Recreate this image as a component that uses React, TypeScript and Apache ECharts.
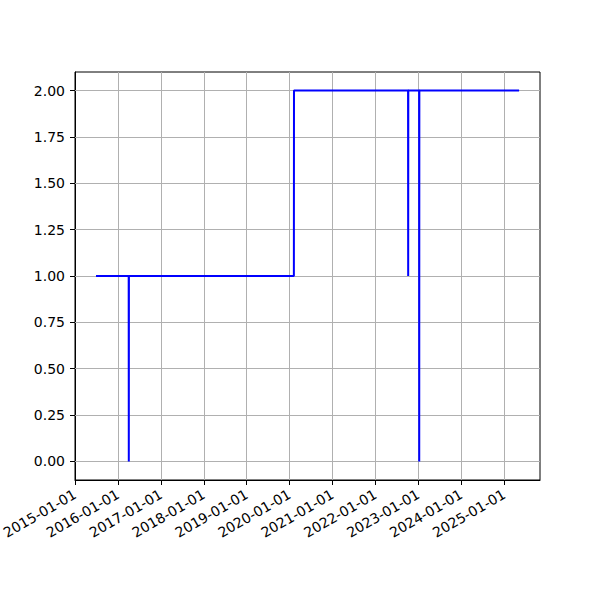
import React, { useEffect, useRef } from 'react';
import * as echarts from 'echarts';

// Tick labels
const X_TICK_LABELS = [
  '2015-01-01', '2016-01-01', '2017-01-01', '2018-01-01', '2019-01-01', '2020-01-01',
  '2021-01-01', '2022-01-01', '2023-01-01', '2024-01-01', '2025-01-01',
];
const Y_TICKS = [0, 0.25, 0.5, 0.75, 1, 1.25, 1.5, 1.75, 2];

// Axis ranges
const X_RANGE = ['2015-01-01', '2025-11-02'];
const Y_RANGE = [-0.1, 2.1];

// Series (dates and values)
const DATES = [
  '2015-06-29', '2016-04-02', '2016-04-03', '2016-04-04',
  '2020-02-07', '2020-02-08',
  '2022-10-06', '2022-10-07', '2022-10-08',
  '2023-01-08', '2023-01-09', '2023-01-10',
  '2025-05-08',
];
const VALUES = [1, 1, 0, 1, 1, 2, 2, 1, 2, 2, 0, 2, 2];

const ms = (d: string) => Date.parse(d + 'T00:00:00Z');
const fmtDate = (v: number) => new Date(v).toISOString().slice(0, 10);

export default function App() {
  const ref = useRef<HTMLDivElement>(null);

  useEffect(() => {
    if (!ref.current) return;
    const chart = echarts.init(ref.current, undefined, { renderer: 'svg' });
    const xMin = ms(X_RANGE[0]);
    const xMax = ms(X_RANGE[1]);
    const xTicks = X_TICK_LABELS.map(ms);
    const points = DATES.map((d, i) => [ms(d), VALUES[i]]);
    const font = { fontFamily: 'DejaVu Sans', fontSize: 14, color: '#000' };

    chart.setOption({
      animation: false,
      backgroundColor: '#fff',
      grid: {
        left: 75, right: 60, top: 72, bottom: 120,
        outerBoundsMode: 'none',
        containLabel: false,
        show: true, borderColor: '#000', borderWidth: 1, backgroundColor: '#fff',
      },
      xAxis: {
        type: 'value',
        min: xMin,
        max: xMax,
        axisLine: { show: true, onZero: false, lineStyle: { color: '#000', width: 1 } },
        axisTick: { show: true, length: 5, customValues: xTicks, lineStyle: { color: '#000', width: 1 } },
        axisLabel: {
          ...font,
          customValues: xTicks,
          rotate: 30,
          margin: 13,
          formatter: (v: number) => fmtDate(v),
        },
        splitLine: { show: false },
      },
      yAxis: {
        type: 'value',
        min: Y_RANGE[0],
        max: Y_RANGE[1],
        axisLine: { show: true, onZero: false, lineStyle: { color: '#000', width: 1 } },
        axisTick: { show: true, length: 5, customValues: Y_TICKS, lineStyle: { color: '#000', width: 1 } },
        axisLabel: {
          ...font,
          customValues: Y_TICKS,
          margin: 10,
          formatter: (v: number) => v.toFixed(2),
        },
        splitLine: { show: false },
      },
      series: [
        {
          type: 'line',
          data: [],
          silent: true,
          z: 1,
          markLine: {
            z: 1,
            silent: true,
            symbol: 'none',
            animation: false,
            label: { show: false },
            lineStyle: { color: '#b0b0b0', width: 1, type: 'solid' },
            data: [
              ...xTicks.filter((v) => v > xMin && v < xMax).map((v) => ({ xAxis: v })),
              ...Y_TICKS.map((v) => ({ yAxis: v })),
            ],
          },
        },
        {
          type: 'line',
          data: points,
          showSymbol: false,
          symbol: 'none',
          z: 10,
          lineStyle: { color: '#0000ff', width: 2 },
        },
      ],
    });
    return () => chart.dispose();
  }, []);

  return (
    <div
      ref={ref}
      style={{ position: 'fixed', left: 0, top: 0, width: 600, height: 600 }}
    />
  );
}
